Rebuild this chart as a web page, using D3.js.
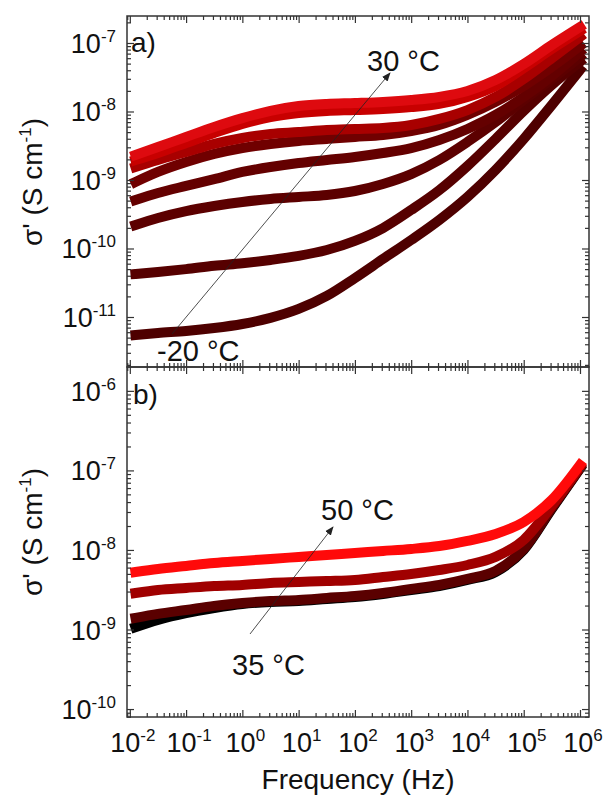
<!DOCTYPE html>
<html>
<head>
<meta charset="utf-8">
<script src="https://cdn.jsdelivr.net/npm/d3@7"></script>
<style>
  body { margin: 0; background: #fff; }
  text { font-family: "Liberation Sans", Arial, sans-serif; fill: #111; }
</style>
</head>
<body>
<div id="chart"></div>
<script>
// frequency points (Hz), shared by every curve
const freq = [0.0126, 0.0316, 0.1, 0.316, 1, 3.16, 10, 31.6, 100, 316, 1000, 3160, 1e4, 3.16e4, 1e5, 3.16e5, 1e6];

// panel a) : -20 °C (a1) ... 30 °C (a8), sigma' in S/cm
const a1 = [5.46e-12, 5.84e-12, 6.25e-12, 6.9e-12, 7.9e-12, 9.7e-12, 1.31e-11, 2.03e-11, 3.7e-11, 7.03e-11, 1.33e-10, 2.61e-10, 5.65e-10, 1.40e-9, 3.97e-9, 1.245e-8, 4.04e-8];
const a2 = [4.25e-11, 4.54e-11, 5.0e-11, 5.6e-11, 6.1e-11, 6.8e-11, 7.8e-11, 9.5e-11, 1.29e-10, 1.99e-10, 3.65e-10, 7.1e-10, 1.6e-9, 3.97e-9, 1.02e-8, 2.44e-8, 5.3e-8];
const a3 = [2.2e-10, 2.79e-10, 3.52e-10, 4.17e-10, 4.78e-10, 5.28e-10, 5.65e-10, 6.04e-10, 6.9e-10, 8.75e-10, 1.22e-9, 1.96e-9, 3.59e-9, 7.0e-9, 1.47e-8, 2.98e-8, 6.25e-8];
const a4 = [5.1e-10, 6.46e-10, 8.2e-10, 1.03e-9, 1.31e-9, 1.55e-9, 1.77e-9, 1.96e-9, 2.17e-9, 2.48e-9, 2.93e-9, 3.84e-9, 5.56e-9, 8.9e-9, 1.63e-8, 3.3e-8, 7.4e-8];
const a5 = [9.35e-10, 1.31e-9, 1.83e-9, 2.4e-9, 2.93e-9, 3.36e-9, 3.71e-9, 3.97e-9, 4.25e-9, 4.54e-9, 5.19e-9, 6.35e-9, 8.9e-9, 1.38e-8, 2.36e-8, 4.47e-8, 9.0e-8];
const a6 = [1.55e-9, 1.96e-9, 2.56e-9, 3.36e-9, 4.1e-9, 4.7e-9, 5.0e-9, 5.37e-9, 5.56e-9, 5.74e-9, 6.35e-9, 7.8e-9, 1.05e-8, 1.63e-8, 2.98e-8, 6.0e-8, 1.22e-7];
const a7 = [1.96e-9, 2.48e-9, 3.47e-9, 4.85e-9, 6.58e-9, 8.3e-9, 9.5e-9, 1.02e-8, 1.05e-8, 1.09e-8, 1.16e-8, 1.29e-8, 1.63e-8, 2.36e-8, 4.3e-8, 8.2e-8, 1.5e-7];
const a8 = [2.32e-9, 3.03e-9, 4.25e-9, 5.94e-9, 8.0e-9, 1.02e-8, 1.2e-8, 1.29e-8, 1.33e-8, 1.38e-8, 1.47e-8, 1.63e-8, 1.99e-8, 2.88e-8, 4.93e-8, 9.35e-8, 1.71e-7];

// panel b) : 35 °C ... 50 °C
const b35 = [1.07e-9, 1.32e-9, 1.61e-9, 1.86e-9, 2.09e-9, 2.22e-9, 2.28e-9, 2.42e-9, 2.56e-9, 2.80e-9, 3.14e-9, 3.52e-9, 4.2e-9, 5.28e-9, 1.0e-8, 3.28e-8, 1.05e-7];
const b40 = [1.40e-9, 1.57e-9, 1.76e-9, 1.98e-9, 2.15e-9, 2.28e-9, 2.35e-9, 2.49e-9, 2.64e-9, 2.88e-9, 3.23e-9, 3.63e-9, 4.32e-9, 5.45e-9, 1.03e-8, 3.37e-8, 1.07e-7];
const b45 = [2.88e-9, 3.14e-9, 3.33e-9, 3.52e-9, 3.63e-9, 3.85e-9, 3.96e-9, 4.07e-9, 4.2e-9, 4.57e-9, 4.99e-9, 5.6e-9, 6.47e-9, 8.17e-9, 1.34e-8, 3.57e-8, 1.11e-7];
const b50 = [5.28e-9, 5.77e-9, 6.3e-9, 6.86e-9, 7.28e-9, 7.71e-9, 8.17e-9, 8.65e-9, 9.17e-9, 9.71e-9, 1.03e-8, 1.12e-8, 1.30e-8, 1.59e-8, 2.25e-8, 4.26e-8, 1.17e-7];

const xDecades = [-2, -1, 0, 1, 2, 3, 4, 5, 6];
const yDecadesTop = [-11, -10, -9, -8, -7];
const yDecadesBot = [-10, -9, -8, -7, -6];

const topColors = ['#4e0000', '#560000', '#5c0000', '#640000', '#700000', '#a80000', '#c80000', '#de0a0f'];
const botColors = ['#000000', '#5a0000', '#a00000', '#ff0a0a'];

const W = 603, H = 796;
const L = 127, R = 589;
const topY0 = 16, midY = 367, botY1 = 717;

const svg = d3.select('#chart').append('svg')
  .attr('width', W).attr('height', H);

const x = d3.scaleLog().domain([Math.pow(10, -2.05), Math.pow(10, 6.16)]).range([L, R]);
const yTop = d3.scaleLog().domain([Math.pow(10, -11.73), Math.pow(10, -6.606)]).range([midY, topY0]);
const yBot = d3.scaleLog().domain([Math.pow(10, -10.1), Math.pow(10, -5.70)]).range([botY1, midY]);

function mantissa(v) {
  return Math.round(v / Math.pow(10, Math.floor(Math.log10(v) + 1e-9)));
}
function minorOf(scale) {
  const [a, b] = scale.domain();
  return scale.ticks().filter(v => mantissa(v) !== 1 && v >= a && v <= b);
}
function majorOf(scale) {
  const [a, b] = scale.domain();
  return scale.ticks().filter(v => mantissa(v) === 1 && v >= a && v <= b);
}

function drawPanel(y, y0, y1, series, colors) {
  const line = d3.line()
    .x((d, i) => x(freq[i]))
    .y(d => y(d))
    .curve(d3.curveMonotoneX);

  const g = svg.append('g');
  g.selectAll('.curve')
    .data(series)
    .enter().append('path')
    .attr('class', 'curve')
    .attr('d', d => line(d))
    .attr('fill', 'none')
    .attr('stroke', (d, i) => colors[i])
    .attr('stroke-width', 10)
    .attr('stroke-linecap', 'square')
    .attr('stroke-linejoin', 'round');

  // axes, ticks pointing inward
  const axes = svg.append('g').attr('class', 'axes');
  const mk = (axis, tr, vals, size) => {
    const a = axes.append('g').attr('transform', tr)
      .call(axis.tickValues(vals).tickSizeInner(size).tickSizeOuter(0).tickFormat(''));
    a.select('.domain').remove();
    a.selectAll('line').attr('stroke', '#333').attr('stroke-width', 1.2);
  };
  mk(d3.axisBottom(x), `translate(0,${y1})`, majorOf(x), -7);
  mk(d3.axisBottom(x), `translate(0,${y1})`, minorOf(x), -4);
  mk(d3.axisTop(x), `translate(0,${y0})`, majorOf(x), -7);
  mk(d3.axisTop(x), `translate(0,${y0})`, minorOf(x), -4);
  mk(d3.axisLeft(y), `translate(${L},0)`, majorOf(y), -7);
  mk(d3.axisLeft(y), `translate(${L},0)`, minorOf(y), -4);
  mk(d3.axisRight(y), `translate(${R},0)`, majorOf(y), -7);
  mk(d3.axisRight(y), `translate(${R},0)`, minorOf(y), -4);

  axes.append('rect')
    .attr('x', L).attr('y', y0)
    .attr('width', R - L).attr('height', y1 - y0)
    .attr('fill', 'none')
    .attr('stroke', '#333')
    .attr('stroke-width', 1.5);
}

drawPanel(yTop, topY0, midY, [a1, a2, a3, a4, a5, a6, a7, a8], topColors);
drawPanel(yBot, midY, botY1, [b35, b40, b45, b50], botColors);

// y tick labels
function yLabels(y, decades) {
  const t = svg.append('g').selectAll('text')
    .data(decades)
    .enter().append('text')
    .attr('x', 116)
    .attr('y', d => y(Math.pow(10, d)) + 10)
    .attr('text-anchor', 'end')
    .style('font-size', '27px');
  t.append('tspan').text('10');
  t.append('tspan').attr('dy', -11).style('font-size', '17px').text(d => d);
}
yLabels(yTop, yDecadesTop);
yLabels(yBot, yDecadesBot);

// x tick labels
const xl = svg.append('g').selectAll('text')
  .data(xDecades)
  .enter().append('text')
  .attr('x', d => x(Math.pow(10, d)) + 3)
  .attr('y', 752)
  .attr('text-anchor', 'middle')
  .style('font-size', '27px');
xl.append('tspan').text('10');
xl.append('tspan').attr('dy', -11).style('font-size', '17px').text(d => d);

// axis titles
svg.append('text')
  .attr('x', 358).attr('y', 789)
  .attr('text-anchor', 'middle')
  .style('font-size', '28px')
  .text('Frequency (Hz)');

function yTitle(cy) {
  const t = svg.append('text')
    .attr('transform', `translate(42,${cy}) rotate(-90)`)
    .attr('text-anchor', 'middle')
    .style('font-size', '28px');
  t.append('tspan').text('σ\' (S cm');
  t.append('tspan').attr('dy', -11).style('font-size', '17px').text('-1');
  t.append('tspan').attr('dy', 11).text(')');
}
yTitle(182);
yTitle(532);

// panel letters
svg.append('text').attr('x', 131).attr('y', 52).style('font-size', '28px').text('a)');
svg.append('text').attr('x', 133).attr('y', 404).style('font-size', '28px').text('b)');

// arrows
const defs = svg.append('defs');
defs.append('marker')
  .attr('id', 'arr')
  .attr('viewBox', '0 0 10 10')
  .attr('refX', 9).attr('refY', 5)
  .attr('markerWidth', 9).attr('markerHeight', 9)
  .attr('markerUnits', 'userSpaceOnUse')
  .attr('orient', 'auto')
  .append('path')
  .attr('d', 'M0,1 L10,5 L0,9 Z')
  .attr('fill', '#222');

svg.append('line')
  .attr('x1', 172).attr('y1', 334).attr('x2', 390).attr('y2', 73)
  .attr('stroke', '#222').attr('stroke-width', 0.8)
  .attr('marker-end', 'url(#arr)');
svg.append('line')
  .attr('x1', 250).attr('y1', 634).attr('x2', 333).attr('y2', 527)
  .attr('stroke', '#222').attr('stroke-width', 0.8)
  .attr('marker-end', 'url(#arr)');

// temperature labels
const ann = [
  { t: '30 °C', x: 367, y: 71 },
  { t: '-20 °C', x: 157, y: 361 },
  { t: '50 °C', x: 321, y: 520 },
  { t: '35 °C', x: 232, y: 675 }
];
svg.append('g').selectAll('text')
  .data(ann)
  .enter().append('text')
  .attr('x', d => d.x).attr('y', d => d.y)
  .style('font-size', '29px')
  .text(d => d.t);
</script>
</body>
</html>
